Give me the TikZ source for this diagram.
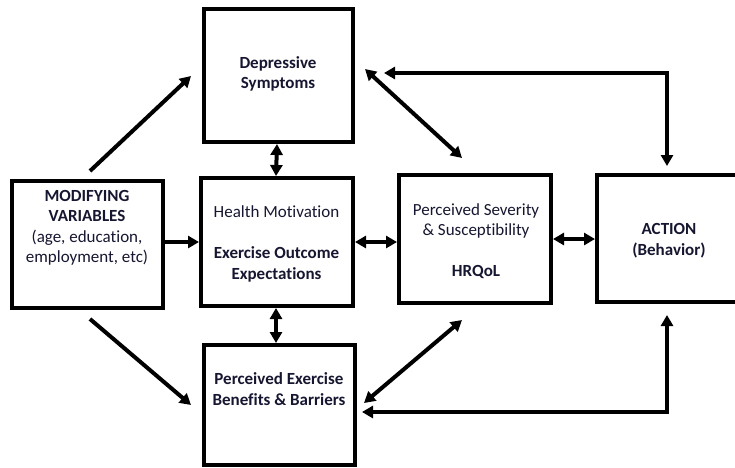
\documentclass[tikz,border=0pt]{standalone}
\usepackage{fontspec}
\setmainfont[Ligatures=NoCommon]{Carlito}
\usetikzlibrary{arrows.meta,calc}
\definecolor{txt}{RGB}{22,22,48}
\begin{document}
\begin{tikzpicture}[x=1pt,y=-1pt,
  box/.style={draw=black,line width=4pt,rectangle,inner sep=0pt},
  lbl/.style={align=center,inner sep=0pt,text=txt,font=\fontsize{17}{20.5}\selectfont},
  con/.style={line width=4pt,-{Triangle[length=11pt,width=12pt]}},
  bicon/.style={line width=4pt,{Triangle[length=11pt,width=12pt]}-{Triangle[length=11pt,width=12pt]}}]
\useasboundingbox (0,0) rectangle (735,467);
\clip (0,0) rectangle (735,467);
% boxes
\node[box,minimum width=149pt,minimum height=133pt] (dep) at (278.5,75.5) {};
\node[box,minimum width=151pt,minimum height=127pt] (mod) at (87.5,244.5) {};
\node[box,minimum width=152pt,minimum height=128pt] (hm) at (277,242) {};
\node[box,minimum width=151pt,minimum height=120pt] (pes) at (279.5,405) {};
\node[box,minimum width=152pt,minimum height=128pt] (sev) at (475,239) {};
\node[box,minimum width=144pt,minimum height=127pt] (act) at (669,238.5) {};
% texts
\node[lbl] (tdep) at (278,74) {\bfseries Depressive\\\bfseries Symptoms};
\node[lbl] (tmod) at (87,228) {\bfseries MODIFYING\\\bfseries VARIABLES\\(age, education,\\employment, etc)};
\node[lbl] (thm) at (276.5,244) {Health Motivation\\[20.5pt]\bfseries Exercise Outcome\\\bfseries Expectations};
\node[lbl] (tsev) at (476,241) {Perceived Severity\\\& Susceptibility\\[20.5pt]\bfseries HRQoL};
\node[lbl] (tact) at (669,240.5) {\bfseries ACTION\\\bfseries (Behavior)};
\node[lbl] (tpes) at (279,389) {\bfseries Perceived Exercise\\\bfseries Benefits \& Barriers};
% connectors
\draw[con] ($(mod.north)+(2.5,-8)$) -- ($(dep.west)+(-11,0.5)$);
\draw[con] ($(mod.south)+(2.5,9)$) -- ($(pes.west)+(-11,0)$);
\draw[con] (mod.east |- hm.west) -- (hm.west);
\draw[bicon] ($(dep.south)+(-1.5,0)$) -- ($(hm.north)+(-1,0)$);
\draw[bicon] ($(hm.south)+(-1,0)$) -- ($(hm.south|-pes.north)+(-1,0)$);
\draw[bicon] (hm.east) -- (hm.east -| sev.west);
\draw[bicon] (sev.east) -- (sev.east -| act.west);
\draw[bicon] ($(dep.east)+(10,-6.5)$) -- ($(sev.north)+(-13,-15)$);
\draw[bicon] ($(act.north)+(-2,-7)$) |- ($(dep.east)+(29,-2.5)$);
\draw[bicon] ($(sev.south)+(-13,15)$) -- ($(pes.east)+(7,-2)$);
\draw[bicon] ($(act.south)+(-2,11)$) |- ($(pes.east)+(5,7)$);
\end{tikzpicture}
\end{document}
